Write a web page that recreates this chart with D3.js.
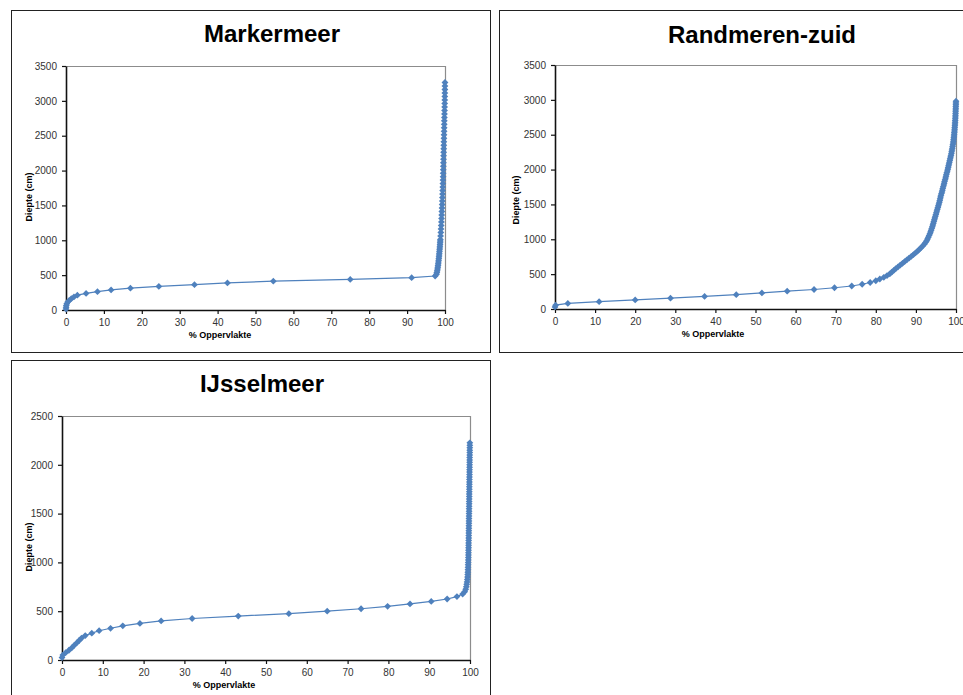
<!DOCTYPE html>
<html>
<head>
<meta charset="utf-8">
<script src="https://cdn.jsdelivr.net/npm/d3@7/dist/d3.min.js"></script>
<style>
  html, body { margin: 0; padding: 0; background: #fff; }
  svg { display: block; }
  text { font-family: "Liberation Sans", Arial, sans-serif; }
</style>
</head>
<body>
<svg id="chart" width="963" height="695"></svg>
<script>
// Hypsographic curves: share of lake surface (%) shallower than a given depth (cm).

const xTicks = [0, 10, 20, 30, 40, 50, 60, 70, 80, 90, 100];
const yTicks3500 = [0, 500, 1000, 1500, 2000, 2500, 3000, 3500];
const yTicks2500 = [0, 500, 1000, 1500, 2000, 2500];

// Markermeer
const markermeerDepth = [
  13, 38, 63, 88, 113, 138, 163, 188,
  213, 238, 263, 288, 313, 338, 363, 388, 413, 438, 463, 488,
  513, 538, 563, 588, 613, 638, 663, 688, 713, 738,
  763, 788, 813, 838, 863, 888, 913, 938, 963, 988,
  1013, 1063, 1113, 1163, 1213, 1263, 1313, 1363, 1413, 1463,
  1513, 1563, 1613, 1663, 1713, 1763, 1813, 1863, 1913, 1963,
  2013, 2063, 2113, 2163, 2213, 2263, 2313, 2363, 2413, 2463,
  2513, 2563, 2613, 2663, 2713, 2763, 2813, 2863, 2913, 2963,
  3013, 3063, 3113, 3163, 3213, 3263
];
const markermeerPct = [
  0.0, 0.03, 0.08, 0.2, 0.45, 0.85, 1.4, 2.1,
  3.0, 5.3, 8.3, 11.9, 17.0, 24.5, 33.9, 42.6, 54.7, 75.0, 91.2, 97.4,
  97.75, 97.85, 97.95, 98.03, 98.1, 98.16, 98.22, 98.27, 98.32, 98.37,
  98.42, 98.46, 98.5, 98.54, 98.58, 98.62, 98.65, 98.69, 98.72, 98.75,
  98.78, 98.84, 98.9, 98.95, 99.0, 99.05, 99.09, 99.13, 99.17, 99.21,
  99.25, 99.29, 99.32, 99.35, 99.38, 99.41, 99.44, 99.47, 99.5, 99.52,
  99.54, 99.56, 99.58, 99.6, 99.62, 99.64, 99.66, 99.68, 99.7, 99.72,
  99.74, 99.76, 99.78, 99.8, 99.82, 99.84, 99.86, 99.88, 99.9, 99.92,
  99.94, 99.95, 99.96, 99.97, 99.98, 99.99
];

// Randmeren-zuid
const randmerenDepth = [
  30, 55, 80, 105, 130, 155, 180, 205, 230, 255, 280, 305, 330, 355, 380,
  405, 430, 455, 480, 505, 530, 555, 580, 605, 630,
  655, 680, 705, 730, 755, 780, 805, 830, 855, 880,
  905, 930, 955, 980, 1005, 1030, 1055, 1080, 1105, 1130,
  1155, 1180, 1205, 1230, 1255, 1280, 1305, 1330, 1355, 1380,
  1405, 1430, 1455, 1480, 1505, 1530, 1555, 1580, 1605, 1630,
  1655, 1680, 1705, 1730, 1755, 1780, 1805, 1830, 1855, 1880,
  1905, 1930, 1955, 1980, 2005, 2030, 2055, 2080, 2105, 2130,
  2155, 2180, 2205, 2230, 2255, 2280, 2305, 2330, 2355, 2380,
  2405, 2430, 2455, 2480, 2505, 2530, 2555, 2580, 2605, 2630,
  2655, 2680, 2705, 2730, 2755, 2780, 2805, 2830, 2855, 2880,
  2905, 2930, 2955, 2980
];
const randmerenPct = [
  0.0, 0.15, 3.2, 11.0, 20.0, 28.8, 37.3, 45.2, 51.6, 57.9, 64.6, 69.7, 74.0, 76.6, 78.6,
  80.0, 81.0, 82.0, 82.8, 83.5, 84.0, 84.5, 85.0, 85.55, 86.1,
  86.65, 87.2, 87.75, 88.3, 88.85, 89.4, 89.9, 90.4, 90.85, 91.3,
  91.7, 92.1, 92.4, 92.7, 92.9, 93.1, 93.3, 93.5, 93.65, 93.8,
  93.95, 94.1, 94.22, 94.35, 94.48, 94.6, 94.72, 94.85, 94.98, 95.1,
  95.22, 95.35, 95.48, 95.6, 95.72, 95.85, 95.95, 96.05, 96.15, 96.25,
  96.38, 96.5, 96.6, 96.7, 96.82, 96.95, 97.05, 97.15, 97.28, 97.4,
  97.5, 97.6, 97.72, 97.85, 97.95, 98.05, 98.15, 98.25, 98.35, 98.45,
  98.55, 98.65, 98.75, 98.85, 98.92, 99.0, 99.08, 99.15, 99.22, 99.3,
  99.35, 99.4, 99.45, 99.5, 99.54, 99.58, 99.62, 99.65, 99.68, 99.72,
  99.75, 99.78, 99.8, 99.83, 99.85, 99.87, 99.89, 99.91, 99.92, 99.94,
  99.95, 99.97, 99.98, 100.0
];

// IJsselmeer
const ijsselmeerDepth = [
  25, 50, 75, 100, 125, 150, 175, 200, 225, 250,
  275, 300, 325, 350, 375, 400, 425, 450, 475, 500,
  525, 550, 575, 600, 625, 650, 675, 700, 725, 750,
  775, 800, 825, 850, 875, 900, 925, 950, 975, 1000,
  1025, 1050, 1075, 1100, 1125, 1150, 1175, 1200, 1225, 1250,
  1275, 1300, 1325, 1350, 1375, 1400, 1425, 1450, 1475, 1500,
  1525, 1550, 1575, 1600, 1625, 1650, 1675, 1700, 1725, 1750,
  1775, 1800, 1825, 1850, 1875, 1900, 1925, 1950, 1975, 2000,
  2025, 2050, 2075, 2100, 2125, 2150, 2175, 2200, 2225
];
const ijsselmeerPct = [
  0.0, 0.2, 0.9, 1.7, 2.4, 3.0, 3.6, 4.2, 4.8, 5.7,
  7.3, 9.1, 11.9, 14.9, 19.1, 24.3, 31.9, 43.2, 55.6, 65.0,
  73.3, 79.8, 85.3, 90.5, 94.4, 96.8, 98.2, 98.7, 98.95, 99.1,
  99.2, 99.28, 99.35, 99.4, 99.44, 99.47, 99.5, 99.52, 99.54, 99.56,
  99.58, 99.6, 99.61, 99.62, 99.63, 99.64, 99.65, 99.66, 99.67, 99.68,
  99.69, 99.7, 99.71, 99.72, 99.73, 99.74, 99.75, 99.75, 99.76, 99.77,
  99.78, 99.78, 99.79, 99.8, 99.8, 99.81, 99.82, 99.82, 99.83, 99.84,
  99.84, 99.85, 99.86, 99.86, 99.87, 99.88, 99.88, 99.89, 99.9, 99.9,
  99.91, 99.92, 99.92, 99.93, 99.94, 99.94, 99.95, 99.96, 99.96
];

const lineColor = "#4F81BD";
const svg = d3.select("#chart");

const panels = [
  { title: "Markermeer", depth: markermeerDepth, pct: markermeerPct, yMax: 3500, yTicks: yTicks3500,
    box: [11.5, 10.5, 479, 342], plot: [66, 445, 66, 310],
    titlePos: [272, 42], yTitlePos: [29, 197], xTitlePos: [220, 338] },
  { title: "Randmeren-zuid", depth: randmerenDepth, pct: randmerenPct, yMax: 3500, yTicks: yTicks3500,
    box: [499.5, 10.5, 475, 342], plot: [555, 956, 65, 309],
    titlePos: [762, 43], yTitlePos: [516, 200], xTitlePos: [713, 337] },
  { title: "IJsselmeer", depth: ijsselmeerDepth, pct: ijsselmeerPct, yMax: 2500, yTicks: yTicks2500,
    box: [11.5, 360.5, 479, 345], plot: [62, 470, 416, 660],
    titlePos: [262, 392], yTitlePos: [29, 547], xTitlePos: [224, 688] }
];

const diamond = "M0,-3.4L3.4,0L0,3.4L-3.4,0Z";
const fmt = d3.format("d");

panels.forEach(p => {
  const g = svg.append("g");
  const [bx, by, bw, bh] = p.box;
  g.append("rect").attr("x", bx).attr("y", by).attr("width", bw).attr("height", bh)
    .attr("fill", "#fff").attr("stroke", "#222").attr("stroke-width", 1);

  const [x0, x1, y0, y1] = p.plot;
  const x = d3.scaleLinear().domain([0, 100]).range([x0, x1]);
  const y = d3.scaleLinear().domain([0, p.yMax]).range([y1, y0]);

  // plot-area frame: grey top/right, dark axes left/bottom
  g.append("path")
    .attr("d", `M${x0},${y0 + 0.5}H${x1 + 0.5}V${y1}`)
    .attr("fill", "none").attr("stroke", "#8c8c8c").attr("stroke-width", 1.2);

  const xAxis = g.append("g").attr("transform", `translate(0,${y1})`)
    .call(d3.axisBottom(x).tickValues(xTicks).tickFormat(fmt).tickSize(4).tickSizeOuter(0).tickPadding(5));
  const yAxis = g.append("g").attr("transform", `translate(${x0},0)`)
    .call(d3.axisLeft(y).tickValues(p.yTicks).tickFormat(fmt).tickSize(4).tickSizeOuter(0).tickPadding(5));

  [xAxis, yAxis].forEach(a => {
    a.select(".domain").attr("stroke", "#111").attr("stroke-width", 1.6);
    a.selectAll(".tick line").attr("stroke", "#111").attr("stroke-width", 1.2);
    a.selectAll(".tick text").attr("fill", "#333").style("font-size", "10px")
      .style("font-family", "'Liberation Sans', Arial, sans-serif");
  });

  const pts = p.depth.map((d, i) => ({ d, v: p.pct[i] }));
  const line = d3.line().x(q => x(q.v)).y(q => y(q.d));
  g.append("path").datum(pts).attr("d", line)
    .attr("fill", "none").attr("stroke", lineColor).attr("stroke-width", 1.2);
  g.append("g").selectAll("path").data(pts).join("path")
    .attr("d", diamond)
    .attr("transform", q => `translate(${x(q.v)},${y(q.d)})`)
    .attr("fill", lineColor);

  g.append("text").attr("x", p.titlePos[0]).attr("y", p.titlePos[1])
    .attr("text-anchor", "middle").style("font-size", "24px").style("font-weight", "bold")
    .attr("fill", "#000").text(p.title);

  g.append("text").attr("transform", `translate(${p.yTitlePos[0]},${p.yTitlePos[1]}) rotate(-90)`)
    .attr("text-anchor", "middle").attr("dy", "0.35em")
    .style("font-size", "9px").style("font-weight", "bold").attr("fill", "#000")
    .text("Diepte (cm)");

  g.append("text").attr("x", p.xTitlePos[0]).attr("y", p.xTitlePos[1])
    .attr("text-anchor", "middle")
    .style("font-size", "9px").style("font-weight", "bold").attr("fill", "#000")
    .text("% Oppervlakte");
});
</script>
</body>
</html>
